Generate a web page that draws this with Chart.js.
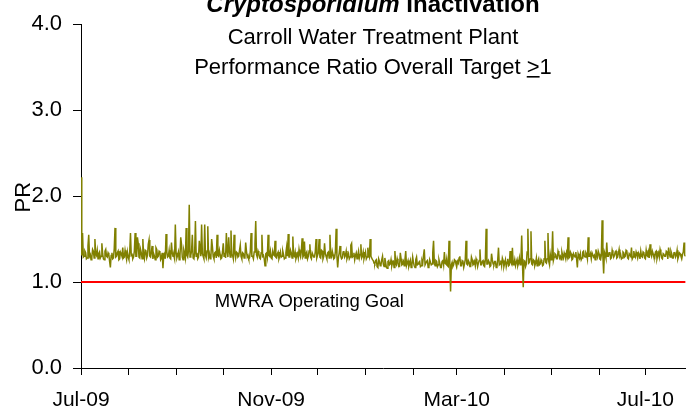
<!DOCTYPE html>
<html><head><meta charset="utf-8">
<script src="https://cdn.jsdelivr.net/npm/chart.js@4.4.0/dist/chart.umd.min.js"></script>
<style>html,body{margin:0;padding:0;background:#fff;overflow:hidden}#wrap{width:687px;height:414px;position:relative}</style>
</head><body><div id="wrap"><canvas id="c" width="687" height="414"></canvas></div>
<script>
// ---- DATA ----
const titleItalic = 'Cryptosporidium';
const titleRest = ' Inactivation';
const subtitle1 = 'Carroll Water Treatment Plant';
const subtitle2Pre = 'Performance Ratio Overall Target ';
const subtitle2Sym = '>';
const subtitle2Post = '1';
const yAxisTitle = 'PR';

// performance ratio, morning readings, one per day from 1 Jul 2009 (day index 0)
const prValuesAM = [
  2.22,1.57,1.30,1.34,1.28,1.55,1.32,1.29,1.36,1.50,
  1.31,1.27,1.35,1.30,1.33,1.26,1.38,1.29,1.32,1.17,
  1.34,1.28,1.63,1.30,1.36,1.27,1.33,1.40,1.29,1.31,
  1.35,1.26,1.57,1.32,1.29,1.57,1.30,1.45,1.28,1.34,
  1.50,1.27,1.36,1.31,1.49,1.29,1.42,1.33,1.26,1.38,
  1.30,1.35,1.28,1.16,1.33,1.56,1.29,1.37,1.27,1.34,
  1.31,1.67,1.28,1.35,1.30,1.44,1.26,1.33,1.63,1.29,
  1.90,1.31,1.55,1.27,1.71,1.34,1.29,1.38,1.67,1.30,
  1.67,1.28,1.65,1.33,1.29,1.41,1.27,1.35,1.55,1.30,
  1.32,1.28,1.45,1.34,1.57,1.29,1.36,1.60,1.31,1.55,
  1.28,1.34,1.30,1.43,1.27,1.33,1.29,1.36,1.31,1.28,
  1.57,1.30,1.35,1.71,1.29,1.33,1.27,1.55,1.31,1.19,
  1.34,1.55,1.30,1.28,1.36,1.31,1.29,1.33,1.27,1.35,
  1.30,1.32,1.28,1.41,1.56,1.29,1.34,1.53,1.30,1.27,
  1.33,1.38,1.29,1.51,1.31,1.28,1.35,1.30,1.44,1.27,
  1.34,1.29,1.50,1.31,1.50,1.28,1.36,1.30,1.33,1.27,
  1.35,1.55,1.29,1.32,1.28,1.62,1.17,1.34,1.30,1.28,
  1.36,1.31,1.27,1.33,1.29,1.45,1.30,1.26,1.34,1.31,
  1.28,1.44,1.30,1.27,1.35,1.29,1.32,1.50,1.28,1.25,
  1.21,1.26,1.17,1.24,1.20,1.30,1.18,1.23,1.16,1.25,
  1.21,1.19,1.24,1.36,1.20,1.23,1.18,1.27,1.21,1.19,
  1.36,1.22,1.18,1.25,1.20,1.23,1.17,1.29,1.21,1.24,
  1.19,1.22,1.38,1.20,1.25,1.18,1.23,1.21,1.48,1.19,
  1.24,1.20,1.22,1.17,1.26,1.35,1.21,1.19,1.48,0.89,
  1.23,1.20,1.25,1.18,1.22,1.30,1.19,1.24,1.21,1.48,
  1.20,1.23,1.18,1.26,1.21,1.19,1.24,1.22,1.38,1.20,
  1.25,1.18,1.62,1.21,1.23,1.19,1.26,1.20,1.24,1.18,
  1.40,1.21,1.19,1.25,1.22,1.18,1.27,1.20,1.23,1.40,
  1.21,1.19,1.26,1.22,1.20,1.54,0.94,1.24,1.21,1.62,
  1.23,1.59,1.20,1.25,1.22,1.19,1.27,1.21,1.24,1.20,
  1.48,1.22,1.57,1.20,1.26,1.59,1.29,1.32,1.27,1.33,
  1.30,1.35,1.28,1.31,1.34,1.52,1.29,1.33,1.27,1.31,
  1.35,1.17,1.30,1.33,1.28,1.36,1.29,1.32,1.52,1.30,
  1.27,1.34,1.31,1.38,1.29,1.33,1.26,1.72,1.10,1.32,
  1.46,1.30,1.35,1.28,1.33,1.31,1.36,1.29,1.38,1.32,
  1.28,1.34,1.30,1.36,1.27,1.33,1.40,1.29,1.31,1.35,
  1.28,1.32,1.36,1.29,1.34,1.27,1.31,1.35,1.44,1.30,
  1.33,1.28,1.36,1.31,1.29,1.34,1.27,1.32,1.30,1.35,
  1.40,1.29,1.33,1.28,1.35,1.31,1.27,1.34,1.30,1.32,1.46,1.30
];

// performance ratio, afternoon readings (half a day after each morning reading)
const prValuesPM = [
  1.31,1.29,1.36,1.27,1.42,1.30,1.26,1.38,1.28,1.33,
  1.37,1.33,1.28,1.45,1.27,1.36,1.30,1.34,1.24,1.31,
  1.27,1.39,1.29,1.34,1.26,1.35,1.30,1.28,1.37,1.26,
  1.29,1.35,1.31,1.27,1.36,1.30,1.52,1.29,1.38,1.27,
  1.31,1.37,1.28,1.44,1.30,1.35,1.27,1.30,1.40,1.29,
  1.36,1.26,1.34,1.31,1.27,1.35,1.30,1.28,1.46,1.30,
  1.27,1.34,1.31,1.26,1.52,1.29,1.37,1.28,1.31,1.36,
  1.29,1.36,1.28,1.34,1.30,1.27,1.48,1.30,1.33,1.27,
  1.31,1.36,1.29,1.27,1.50,1.30,1.34,1.28,1.31,1.37,
  1.27,1.35,1.30,1.28,1.36,1.52,1.29,1.32,1.27,1.34,
  1.35,1.29,1.37,1.30,1.34,1.28,1.46,1.29,1.27,1.36,
  1.30,1.27,1.44,1.32,1.36,1.28,1.34,1.30,1.27,1.33,
  1.29,1.31,1.36,1.27,1.32,1.48,1.28,1.35,1.30,1.29,
  1.36,1.27,1.34,1.30,1.29,1.37,1.28,1.31,1.35,1.30,
  1.28,1.32,1.36,1.29,1.47,1.33,1.27,1.36,1.29,1.34,
  1.29,1.35,1.28,1.34,1.29,1.37,1.27,1.45,1.30,1.34,
  1.28,1.31,1.36,1.27,1.35,1.30,1.29,1.42,1.27,1.35,
  1.29,1.36,1.30,1.27,1.43,1.29,1.34,1.31,1.27,1.36,
  1.32,1.28,1.35,1.31,1.27,1.40,1.29,1.30,1.26,1.22,
  1.25,1.18,1.27,1.19,1.26,1.21,1.28,1.17,1.24,1.20,
  1.26,1.23,1.17,1.22,1.27,1.18,1.34,1.20,1.24,1.26,
  1.19,1.25,1.21,1.17,1.29,1.19,1.26,1.20,1.23,1.18,
  1.25,1.31,1.20,1.24,1.17,1.26,1.20,1.35,1.22,1.25,
  1.18,1.26,1.17,1.24,1.20,1.22,1.27,1.18,1.23,1.20,
  1.18,1.26,1.21,1.24,1.28,1.19,1.25,1.17,1.26,1.21,
  1.25,1.18,1.29,1.20,1.24,1.27,1.18,1.25,1.20,1.24,
  1.19,1.26,1.21,1.25,1.18,1.33,1.21,1.24,1.17,1.26,
  1.20,1.25,1.28,1.18,1.26,1.23,1.19,1.36,1.21,1.20,
  1.26,1.23,1.19,1.28,1.24,1.21,1.25,1.18,1.35,1.22,
  1.27,1.21,1.26,1.19,1.28,1.24,1.20,1.26,1.19,1.27,
  1.23,1.27,1.24,1.32,1.30,1.25,1.33,1.27,1.36,1.28,
  1.26,1.31,1.34,1.27,1.30,1.28,1.35,1.26,1.33,1.29,
  1.27,1.33,1.28,1.26,1.35,1.30,1.34,1.27,1.30,1.33,
  1.34,1.29,1.26,1.32,1.36,1.27,1.31,1.30,1.35,1.28,
  1.30,1.34,1.27,1.37,1.29,1.35,1.28,1.33,1.30,1.27,
  1.35,1.29,1.37,1.28,1.33,1.30,1.27,1.36,1.29,1.32,
  1.34,1.27,1.30,1.35,1.28,1.37,1.30,1.28,1.33,1.36,
  1.29,1.35,1.27,1.34,1.38,1.28,1.33,1.30,1.36,1.27,
  1.33,1.36,1.28,1.34,1.29,1.37,1.30,1.33,1.27,1.35,1.31,1.33
];

// month starts (day index from 1 Jul 2009) and their labels
const monthStarts = [0,31,62,92,123,153,184,215,243,274,304,335,365];
const monthLabels = ['Jul-09','','','','Nov-09','','','','Mar-10','','','','Jul-10'];
const xMaxDay = 391;

const goalValue = 1.0;
const goalLabel = 'MWRA Operating Goal';
const goalLabelDay = 86.5;

const yMin = 0, yMax = 4, yStep = 1;

// ---- CHART ----
const FONT = '"Liberation Sans", Arial, sans-serif';

const prPoints = [];
prValuesAM.forEach((v, i) => {
  prPoints.push({ x: i, y: v });
  if (i < prValuesPM.length) prPoints.push({ x: i + 0.5, y: prValuesPM[i] });
});
const goalPoints = [{ x: 0, y: goalValue }, { x: xMaxDay, y: goalValue }];

const textPlugin = {
  id: 'texts',
  afterDraw(chart) {
    const ctx = chart.ctx;
    const cx = 373;
    ctx.save();
    ctx.fillStyle = '#000';
    ctx.textBaseline = 'alphabetic';
    // title
    ctx.font = 'italic bold 24px ' + FONT;
    const w1 = ctx.measureText(titleItalic).width;
    ctx.font = 'bold 24px ' + FONT;
    const w2 = ctx.measureText(titleRest).width;
    let x0 = cx - (w1 + w2) / 2;
    ctx.textAlign = 'left';
    ctx.font = 'italic bold 24px ' + FONT;
    ctx.fillText(titleItalic, x0, 12);
    ctx.font = 'bold 24px ' + FONT;
    ctx.fillText(titleRest, x0 + w1, 12);
    // subtitle 1
    ctx.font = '22px ' + FONT;
    ctx.textAlign = 'center';
    ctx.fillText(subtitle1, cx, 43.5);
    // subtitle 2
    ctx.textAlign = 'left';
    const a = ctx.measureText(subtitle2Pre).width;
    const b = ctx.measureText(subtitle2Sym).width;
    const c = ctx.measureText(subtitle2Post).width;
    let sx = cx - (a + b + c) / 2;
    ctx.fillText(subtitle2Pre, sx, 74);
    ctx.fillText(subtitle2Sym, sx + a, 74);
    ctx.fillText(subtitle2Post, sx + a + b, 74);
    ctx.fillRect(sx + a, 76, b, 1.6);
    // y axis title
    ctx.save();
    ctx.translate(29.5, (chart.chartArea.top + chart.chartArea.bottom) / 2 + 1);
    ctx.rotate(-Math.PI / 2);
    ctx.textAlign = 'center';
    ctx.font = '22px ' + FONT;
    ctx.fillText(yAxisTitle, 0, 0);
    ctx.restore();
    // goal label
    const xs = chart.scales.x, ys = chart.scales.y;
    ctx.font = '18.5px ' + FONT;
    ctx.textAlign = 'left';
    ctx.fillText(goalLabel, xs.getPixelForValue(goalLabelDay), ys.getPixelForValue(goalValue) + 25);
    ctx.restore();
  }
};

new Chart(document.getElementById('c'), {
  type: 'line',
  data: {
    datasets: [
      { label: 'PR', data: prPoints, borderColor: '#808000', borderWidth: 1.5, pointRadius: 0, tension: 0, fill: false },
      { label: 'Goal', data: goalPoints, borderColor: '#ff0000', borderWidth: 2, pointRadius: 0, tension: 0, fill: false }
    ]
  },
  options: {
    responsive: false,
    animation: false,
    devicePixelRatio: 1,
    layout: { padding: { top: 22, right: 0, bottom: 0, left: 0 } },
    plugins: { legend: { display: false }, tooltip: { enabled: false }, title: { display: false } },
    scales: {
      x: {
        type: 'linear',
        min: 0,
        max: xMaxDay,
        afterBuildTicks(scale) {
          scale.ticks = monthStarts.filter(v => v <= xMaxDay).map(v => ({ value: v }));
        },
        afterFit(scale) { scale.height = 46; },
        ticks: {
          autoSkip: false, maxRotation: 0, minRotation: 0, padding: 13,
          color: '#000', font: { family: FONT, size: 21 },
          callback(v) { const i = monthStarts.indexOf(v); return i >= 0 ? monthLabels[i] : ''; }
        },
        grid: { drawOnChartArea: false, drawTicks: true, tickLength: 7, color: '#000', lineWidth: 1 },
        border: { display: true, color: '#000', width: 1 }
      },
      y: {
        min: yMin,
        max: yMax,
        afterFit(scale) { scale.width = 81; },
        ticks: {
          stepSize: yStep, padding: 11, color: '#000', font: { family: FONT, size: 22 },
          callback(v) { return Number(v).toFixed(1); }
        },
        grid: { drawOnChartArea: false, drawTicks: true, tickLength: 8, color: '#000', lineWidth: 1 },
        border: { display: true, color: '#000', width: 1 }
      }
    }
  },
  plugins: [textPlugin]
});
</script>
</body></html>
